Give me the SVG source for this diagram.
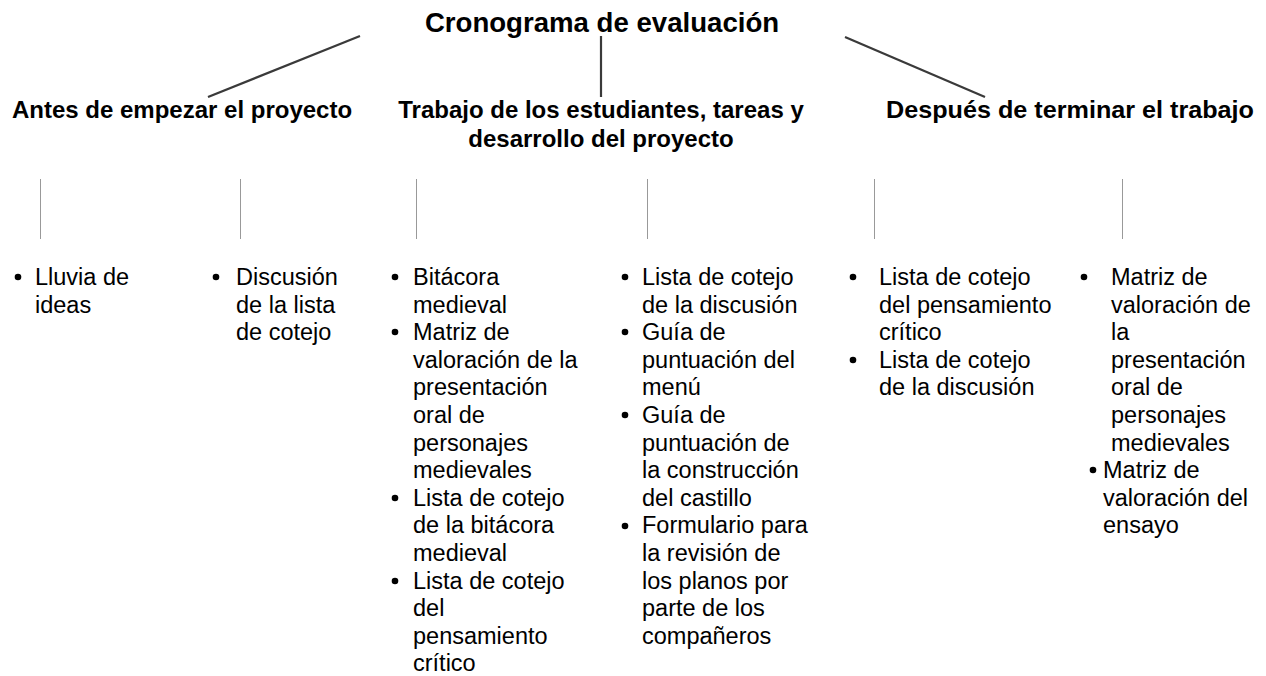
<svg xmlns="http://www.w3.org/2000/svg" width="1266" height="676" viewBox="0 0 1266 676">
<style>
text{font-family:"Liberation Sans",Arial,sans-serif;fill:#000}
.t{font-size:27.6px;font-weight:bold}
.h{font-size:24px;font-weight:bold}
.b{font-size:23.5px}
.main{stroke:#3a3a3a;stroke-width:2.2;fill:none}
.sub{stroke:#999;stroke-width:1;fill:none}
.dot{fill:#000}
</style>
<rect width="1266" height="676" fill="#fff"/>
<g id="title"><text class="t" x="602" y="32" text-anchor="middle">Cronograma de evaluación</text></g>
<g id="connectors">
<line class="main" x1="360" y1="36" x2="208" y2="97"/>
<line class="main" x1="601" y1="36" x2="601" y2="97"/>
<line class="main" x1="845" y1="37" x2="985" y2="97"/>
<line class="sub" x1="40.5" y1="179" x2="40.5" y2="239"/>
<line class="sub" x1="240.5" y1="179" x2="240.5" y2="239"/>
<line class="sub" x1="416.5" y1="179" x2="416.5" y2="239"/>
<line class="sub" x1="647.5" y1="179" x2="647.5" y2="239"/>
<line class="sub" x1="874.5" y1="179" x2="874.5" y2="239"/>
<line class="sub" x1="1122.5" y1="179" x2="1122.5" y2="239"/>
</g>
<g id="phase-antes"><text class="h" x="12" y="118">Antes de empezar el proyecto</text></g>
<g id="phase-trabajo"><text class="h" x="601" y="118" text-anchor="middle">Trabajo de los estudiantes, tareas y</text><text class="h" x="601" y="147" text-anchor="middle">desarrollo del proyecto</text></g>
<g id="phase-despues"><text class="h" x="886" y="118" textLength="368" lengthAdjust="spacingAndGlyphs">Después de terminar el trabajo</text></g>
<g id="col1">
<circle class="dot" cx="18" cy="277" r="3.3"/>
<text class="b" x="35" y="285">Lluvia de</text>
<text class="b" x="35" y="312.6">ideas</text>
</g>
<g id="col2">
<circle class="dot" cx="216" cy="277" r="3.3"/>
<text class="b" x="236" y="285">Discusión</text>
<text class="b" x="236" y="312.6">de la lista</text>
<text class="b" x="236" y="340.2">de cotejo</text>
</g>
<g id="col3">
<circle class="dot" cx="395" cy="277" r="3.3"/>
<circle class="dot" cx="395" cy="332" r="3.3"/>
<circle class="dot" cx="395" cy="498" r="3.3"/>
<circle class="dot" cx="395" cy="581" r="3.3"/>
<text class="b" x="413" y="285">Bitácora</text>
<text class="b" x="413" y="312.6">medieval</text>
<text class="b" x="413" y="340.2">Matriz de</text>
<text class="b" x="413" y="367.8">valoración de la</text>
<text class="b" x="413" y="395.4">presentación</text>
<text class="b" x="413" y="423">oral de</text>
<text class="b" x="413" y="450.6">personajes</text>
<text class="b" x="413" y="478.2">medievales</text>
<text class="b" x="413" y="505.8">Lista de cotejo</text>
<text class="b" x="413" y="533.4">de la bitácora</text>
<text class="b" x="413" y="561">medieval</text>
<text class="b" x="413" y="588.6">Lista de cotejo</text>
<text class="b" x="413" y="616.2">del</text>
<text class="b" x="413" y="643.8">pensamiento</text>
<text class="b" x="413" y="671.4">crítico</text>
</g>
<g id="col4">
<circle class="dot" cx="625" cy="277" r="3.3"/>
<circle class="dot" cx="625" cy="332" r="3.3"/>
<circle class="dot" cx="625" cy="415" r="3.3"/>
<circle class="dot" cx="625" cy="526" r="3.3"/>
<text class="b" x="642" y="285">Lista de cotejo</text>
<text class="b" x="642" y="312.6">de la discusión</text>
<text class="b" x="642" y="340.2">Guía de</text>
<text class="b" x="642" y="367.8">puntuación del</text>
<text class="b" x="642" y="395.4">menú</text>
<text class="b" x="642" y="423">Guía de</text>
<text class="b" x="642" y="450.6">puntuación de</text>
<text class="b" x="642" y="478.2">la construcción</text>
<text class="b" x="642" y="505.8">del castillo</text>
<text class="b" x="642" y="533.4">Formulario para</text>
<text class="b" x="642" y="561">la revisión de</text>
<text class="b" x="642" y="588.6">los planos por</text>
<text class="b" x="642" y="616.2">parte de los</text>
<text class="b" x="642" y="643.8">compañeros</text>
</g>
<g id="col5">
<circle class="dot" cx="853" cy="277" r="3.3"/>
<circle class="dot" cx="853" cy="360" r="3.3"/>
<text class="b" x="879" y="285">Lista de cotejo</text>
<text class="b" x="879" y="312.6">del pensamiento</text>
<text class="b" x="879" y="340.2">crítico</text>
<text class="b" x="879" y="367.8">Lista de cotejo</text>
<text class="b" x="879" y="395.4">de la discusión</text>
</g>
<g id="col6">
<circle class="dot" cx="1084" cy="277" r="3.3"/>
<circle class="dot" cx="1093" cy="470" r="3.3"/>
<text class="b" x="1111" y="285">Matriz de</text>
<text class="b" x="1111" y="312.6">valoración de</text>
<text class="b" x="1111" y="340.2">la</text>
<text class="b" x="1111" y="367.8">presentación</text>
<text class="b" x="1111" y="395.4">oral de</text>
<text class="b" x="1111" y="423">personajes</text>
<text class="b" x="1111" y="450.6">medievales</text>
<text class="b" x="1103" y="478.2">Matriz de</text>
<text class="b" x="1103" y="505.8">valoración del</text>
<text class="b" x="1103" y="533.4">ensayo</text>
</g>
</svg>
